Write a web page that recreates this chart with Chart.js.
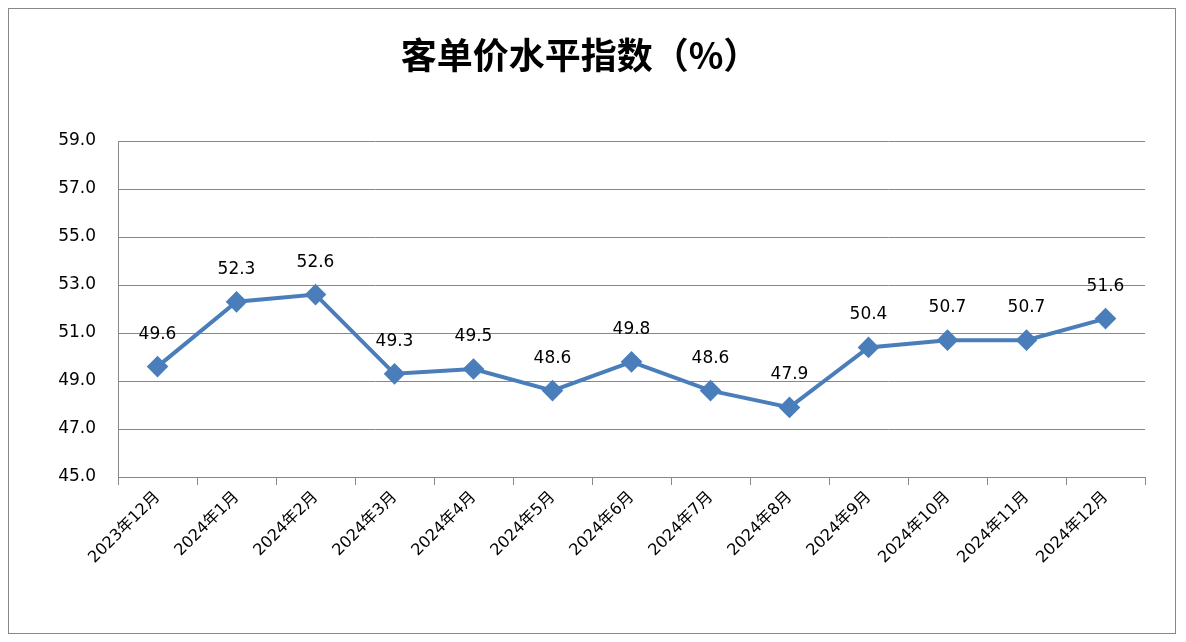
<!DOCTYPE html>
<html>
<head>
<meta charset="utf-8">
<script src="https://cdn.jsdelivr.net/npm/chart.js@4"></script>
<style>
body { margin: 0; background: #fff; }
#wrap { position: relative; width: 1186px; height: 642px; }
#frame { position: absolute; left: 8px; top: 8px; width: 1166px; height: 624px; border: 1px solid #888; }
</style>
</head>
<body>
<div id="wrap">
<div id="frame"></div>
<canvas id="myChart" width="1186" height="642"></canvas>
</div>
<script>
// 数据
const months = ['2023年12月', '2024年1月', '2024年2月', '2024年3月', '2024年4月', '2024年5月', '2024年6月',
	'2024年7月', '2024年8月', '2024年9月', '2024年10月', '2024年11月', '2024年12月'];
const values = [49.6, 52.3, 52.6, 49.3, 49.5, 48.6, 49.8, 48.6, 47.9, 50.4, 50.7, 50.7, 51.6];
const yMin = 45, yMax = 59, yStep = 2;

const FONT = '"DejaVu Sans", "Noto Sans CJK SC", sans-serif';

// 标题 + 数据标签
const labelPlugin = {
	id: 'labels',
	afterDatasetsDraw(chart) {
		const ctx = chart.ctx;
		ctx.save();
		ctx.fillStyle = '#000';
		ctx.font = 'bold 36px "Noto Sans CJK SC", sans-serif';
		ctx.textAlign = 'center';
		ctx.textBaseline = 'middle';
		ctx.fillText('客单价水平指数（%）', 580, 55);
		ctx.font = '17px ' + FONT;
		ctx.textBaseline = 'bottom';
		chart.getDatasetMeta(0).data.forEach((pt, i) => {
			ctx.fillText(values[i].toFixed(1), pt.x, pt.y - 24);
		});
		ctx.restore();
	}
};

new Chart(document.getElementById('myChart').getContext('2d'), {
	type: 'line',
	data: {
		labels: months,
		datasets: [{
			data: values,
			borderColor: '#4a7ebb',
			backgroundColor: '#4a7ebb',
			borderWidth: 4,
			pointStyle: 'rectRot',
			pointRadius: 8,
			tension: 0
		}]
	},
	options: {
		responsive: false,
		animation: false,
		layout: { padding: { left: 8, top: 141, right: 41, bottom: 0 } },
		plugins: { legend: { display: false }, tooltip: { enabled: false } },
		scales: {
			y: {
				min: yMin, max: yMax,
				afterFit: s => { s.width = 110; },
				ticks: { stepSize: yStep, color: '#000', padding: 22, font: { size: 17, family: FONT }, callback: v => v.toFixed(1) },
				grid: { color: '#888', tickLength: 0 },
				border: { color: '#888' }
			},
			x: {
				offset: true,
				afterFit: s => { s.height = 642 - 477; },
				ticks: { color: '#000', maxRotation: 45, minRotation: 45, font: { size: 16, family: FONT } },
				grid: { drawOnChartArea: false, offset: true, tickLength: 8, color: '#888' },
				border: { color: '#888' }
			}
		}
	},
	plugins: [labelPlugin]
});
</script>
</body>
</html>
